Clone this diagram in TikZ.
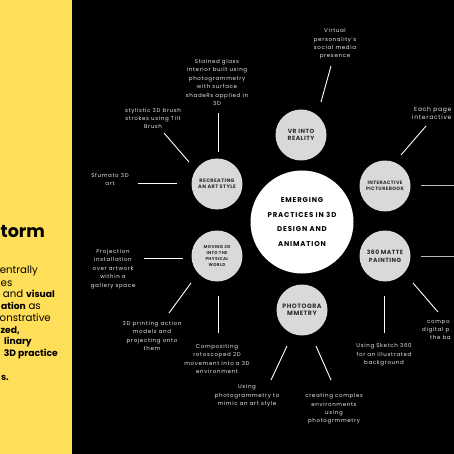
\documentclass[tikz,border=0pt]{standalone}
\usepackage{fontspec}
\setmainfont{Poppins}
\newfontfamily\lblfont[LetterSpace=12]{Poppins}
\newfontfamily\circfont[LetterSpace=8]{Poppins}
\newfontfamily\mainfont[LetterSpace=12]{Poppins}
\definecolor{yel}{RGB}{255,222,89}
\definecolor{cgrey}{RGB}{217,217,217}
\definecolor{ctext}{RGB}{45,45,45}
\definecolor{ltext}{RGB}{232,232,232}
\definecolor{lgrey}{RGB}{185,185,185}
\newcommand{\bld}[1]{{\bfseries\fontsize{9.2}{11}\selectfont #1}}
\begin{document}
\begin{tikzpicture}[x=1pt,y=-1pt,
  sat/.style={circle,fill=cgrey,minimum size=51pt,inner sep=0pt,align=center,text=ctext},
  lbl/.style={align=center,text=ltext,font=\lblfont\fontsize{5.5}{8.4}\selectfont,inner sep=0pt},
  frag/.style={anchor=base west,inner sep=0pt,text=ltext,font=\lblfont\fontsize{5.5}{8.4}\selectfont},
  yline/.style={anchor=base east,inner sep=0pt,text=black,font=\fontsize{10.2}{11}\selectfont},
  conn/.style={draw=white,line width=0.9pt},
  gconn/.style={draw=lgrey,line width=0.9pt}]
\useasboundingbox (0,0) rectangle (454,454);
\fill[yel] (0,0) rectangle (72,454);
\fill[black] (72,0) rectangle (454,454);

% yellow panel text (the part that the picture shows)
\node[anchor=base west,inner sep=0pt,font=\bfseries\fontsize{17.5}{20}\selectfont] (title) at (0.5,237) {torm};
\node[yline] (y1) at (38,273) {entrally};
\node[yline,anchor=base west] (y2) at (0.5,286) {es};
\node[yline] (y3) at (55,297) {and \bld{visual}};
\node[yline] (y4) at (41,309) {\bld{ation} as};
\node[yline] (y5) at (51,321) {onstrative};
\node[yline] (y6) at (20,333) {\bld{zed,}};
\node[yline] (y7) at (32,344) {\bld{linary}};
\node[yline] (y8) at (58,356) {\bld{3D practice}};
\node[yline] (y9) at (9,380) {\bld{s.}};

% central circle
\node[circle,fill=white,minimum size=103pt,inner sep=0pt,align=center,
  font=\mainfont\bfseries\fontsize{7}{14.5}\selectfont] (c) at (302,222)
  {EMERGING\\PRACTICES IN 3D\\DESIGN AND\\ANIMATION};

% satellites
\node[sat,font=\circfont\bfseries\fontsize{6}{7.5}\selectfont] (vr) at (301,135) {VR INTO\\REALITY};
\node[sat,font=\circfont\bfseries\fontsize{4.8}{6}\selectfont] (ip) at (385,186) {INTERACTIVE\\PICTUREBOOK};
\node[sat,font=\circfont\bfseries\fontsize{6}{8}\selectfont] (mp) at (385,256) {360 MATTE\\PAINTING};
\node[sat,font=\circfont\bfseries\fontsize{6.3}{7.5}\selectfont] (ph) at (302,310) {PHOTOGRA\\MMETRY};
\node[sat,font=\circfont\bfseries\fontsize{4.2}{5.8}\selectfont] (mv) at (217,256) {MOVING 3D\\INTO THE\\PHYSICAL\\WORLD};
\node[sat,font=\circfont\bfseries\fontsize{5}{6}\selectfont] (ra) at (217,184) {RECREATING\\AN ART STYLE};

% labels
\node[lbl] (l1) at (217,82.5) {Stained glass\\interior built using\\photogrammetry\\with surface\\shadeRs applied in\\3D};
\node[lbl] (l2) at (153,118.5) {stylistic 3D brush\\strokes using Tilt\\Brush};
\node[lbl] (l3) at (110,179.5) {Sfumato 3D\\art};
\node[lbl] (l4) at (113,269) {Projection\\installation\\over artwork\\within a\\gallery space};
\node[lbl] (l5) at (152,336) {3D printing action\\models and\\projecting onto\\them};
\node[lbl] (l6) at (217,359) {Compositing\\rotoscoped 2D\\movement into a 3D\\environment};
\node[lbl] (l7) at (247,396) {Using\\photogrammetry to\\mimic an art style};
\node[lbl] (l8) at (334,409) {creating complex\\environments\\using\\photogrmmetry};
\node[lbl] (l9) at (384,355) {Using Sketch 360\\for an illustrated\\background};
\node[frag] (l10a) at (427,323) {compo};
\node[frag] (l10b) at (422,331) {digital p};
\node[frag] (l10c) at (430,339) {the ba};
\node[frag,font=\lblfont\fontsize{6}{8.4}\selectfont] (l11a) at (414,112) {Each page};
\node[frag,font=\lblfont\fontsize{6}{8.4}\selectfont] (l11b) at (412,120) {interactive};
\node[lbl] (l12) at (335,44) {Virtual\\personality's\\social media\\presence};

% connector end points
\coordinate (a1) at (218,113); \coordinate (b1) at (218,152);
\coordinate (a2) at (164,133); \coordinate (b2) at (189,162);
\coordinate (a3) at (138,183); \coordinate (b3) at (177,183);
\coordinate (a4) at (144,258); \coordinate (b4) at (183,258);
\coordinate (a5) at (169,313); \coordinate (b5) at (191,283);
\coordinate (a6) at (218,333); \coordinate (b6) at (218,296);
\coordinate (a7) at (271,380); \coordinate (b7) at (287,346);
\coordinate (a8) at (331,380); \coordinate (b8) at (316,346);
\coordinate (a9) at (384,333); \coordinate (b9) at (384,296);
\coordinate (a10) at (438,312); \coordinate (b10) at (413,283);
\coordinate (a11) at (426,126); \coordinate (b11) at (401,155);
\coordinate (a12) at (331,66); \coordinate (b12) at (321,102);
\coordinate (a13) at (454,185); \coordinate (b13) at (421,185);
\coordinate (a14) at (454,256); \coordinate (b14) at (421,256);

\foreach \i in {1,...,12} {\draw[conn] (a\i) -- (b\i);}
\draw[gconn] (a13) -- (b13);
\draw[gconn] (a14) -- (b14);
\end{tikzpicture}
\end{document}
